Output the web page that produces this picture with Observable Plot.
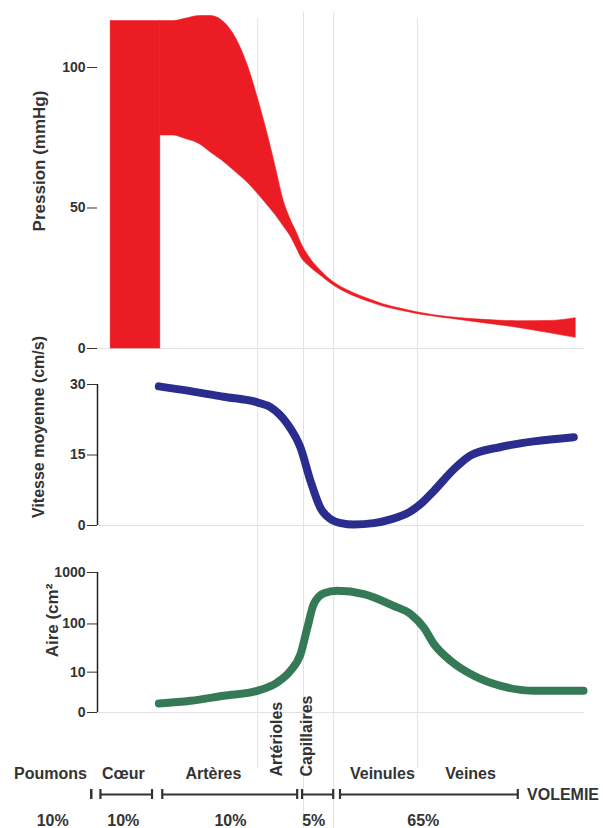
<!DOCTYPE html>
<html><head><meta charset="utf-8">
<script src="https://cdn.jsdelivr.net/npm/d3@7"></script>
<script src="https://cdn.jsdelivr.net/npm/@observablehq/plot@0.6"></script>
<style>
html,body{margin:0;padding:0;background:#fff;}
#chart{position:relative;width:603px;height:828px;overflow:hidden;background:#fff;}
</style></head><body><div id="chart"></div>
<script>
// ---------- données ----------
// position le long du circuit (unités arbitraires 0–100)
const lignesCourtes = [32.9, 65.7];
const lignesLongues = [42.3, 48.5];

// Pression : ventricule (rectangle) puis bande systolo-diastolique
const ventriculeX = [2.7, 12.9];
const ventriculeP = [0, 116.5];
const pressionX = [12.9, 15.6, 18.0, 21.1, 23.2, 25.5, 27.9, 31.0, 33.1, 34.9, 36.6, 38.2, 39.5, 41.1, 41.7, 43.7, 45.8, 48.5, 51.9, 55.4, 58.8, 62.2, 65.6, 72.5, 79.3, 86.2, 93.0, 98.2];
const pressionSystolique = [116.5, 116.5, 117.3, 118.3, 118.3, 116.8, 112, 100, 88, 76.5, 64.4, 52.7, 46.5, 40.5, 38, 32, 27.8, 23.6, 20.3, 17.8, 15.7, 14.2, 12.9, 11.1, 10.2, 9.7, 9.8, 10.8];
const pressionDiastolique = [75.8, 75.8, 74.6, 72.6, 69.8, 67.0, 63.5, 58.7, 54.7, 51.0, 47.4, 43.5, 40.3, 35.0, 32.8, 28.9, 26.0, 22.4, 19.2, 16.8, 14.9, 13.5, 12.3, 10.6, 9.0, 7.4, 5.4, 3.8];
const pressionTicks = [0, 50, 100];

// Vitesse moyenne (cm/s)
const vitesseX = [12.6, 19.1, 25.9, 32.8, 35.5, 39.0, 41.7, 43.7, 45.8, 47.8, 50.0, 52.6, 56.7, 60.2, 64.3, 66.7, 69.1, 73.2, 76.6, 82.8, 89.6, 97.8];
const vitesse = [29.6, 28.6, 27.4, 26.2, 25.2, 21.6, 16.5, 9.6, 3.7, 1.4, 0.5, 0.2, 0.5, 1.3, 3.0, 4.9, 7.4, 12, 14.9, 16.7, 17.9, 18.8];
const vitesseTicks = [0, 15, 30];

// Aire (cm²)
const aireX = [12.6, 19.1, 25.9, 32.8, 36.9, 39.6, 41.7, 43.1, 44.4, 46.5, 49.2, 54.7, 60.8, 64.3, 67.0, 69.1, 72.5, 77.3, 82.8, 89.6, 99.8];
const aire = [0.98, 1.36, 2.2, 3.24, 5.6, 10.7, 24.8, 85, 244, 398, 442, 382, 226, 156, 85, 39.7, 17.9, 8.2, 4.5, 3.24, 3.24];
const aireTicks = [0, 10, 100, 1000];

// Libellés du bas
const tissus = ["Poumons", "Cœur", "Artères", "Veinules", "Veines"];
const tissusX = [-9.65, 5.3, 23.8, 58.5, 76.6];
const vaisseaux = ["Artérioles", "Capillaires"];
const vaisseauxX = [37.9, 44.1];
const volumeDebut = [-1.3, 0.6, 13.3, 42.0, 49.8];
const volumeFin = [-1.3, 11.2, 41.0, 48.4, 86.3];
const pourcentages = ["10%", "10%", "10%", "5%", "65%"];
const pourcentagesX = [-9.2, 5.3, 27.3, 44.4, 66.9];
const volemie = ["VOLEMIE"];
const volemieX = [88.2];

// ---------- rendu ----------
const rouge = "#ec1c24", bleu = "#2b2d8e", vert = "#357a56", grille = "#e2e2e2", texte = "#333";
const police = "'Liberation Sans', Arial, Helvetica, sans-serif";
const commun = {
  width: 603, marginLeft: 97, marginRight: 19,
  x: {domain: [0, 100], axis: null},
  style: {background: "transparent", overflow: "visible", fontFamily: police, fontSize: "14px", fontWeight: "bold", color: texte}
};
const chart = document.getElementById("chart");
function poser(svg, top) {
  svg.style.position = "absolute";
  svg.style.left = "0px";
  svg.style.top = top + "px";
  chart.appendChild(svg);
}
function titreAxe(t, dx, dy, taille) {
  return Plot.text([t], {text: d => d, frameAnchor: "left", textAnchor: "middle", rotate: -90, dx, dy, fontSize: taille});
}

// lignes verticales de séparation
poser(Plot.plot({...commun, height: 750, marginTop: 0, marginBottom: 0,
  marks: [Plot.ruleX(lignesCourtes, {stroke: grille, strokeWidth: 1})]}), 18);
poser(Plot.plot({...commun, height: 816, marginTop: 0, marginBottom: 0,
  marks: [Plot.ruleX(lignesLongues, {stroke: grille, strokeWidth: 1})]}), 12);

// Pression
const ventricule = [{x1: ventriculeX[0], x2: ventriculeX[1], y1: ventriculeP[0], y2: ventriculeP[1]}];
const bande = pressionX.map((x, i) => ({x, haut: pressionSystolique[i], bas: pressionDiastolique[i]}));
const axeY = {tickSize: 10, tickPadding: 2, label: null};
poser(Plot.plot({...commun, height: 360, marginTop: 15, marginBottom: 12,
  y: {...axeY, domain: [0, 118.5], ticks: pressionTicks},
  marks: [
    Plot.ruleY([0], {stroke: grille}),
    Plot.rect(ventricule, {x1: "x1", x2: "x2", y1: "y1", y2: "y2", fill: rouge, stroke: rouge, strokeWidth: 0.6}),
    Plot.areaY(bande, {x: "x", y1: "bas", y2: "haut", fill: rouge, stroke: rouge, strokeWidth: 0.6, curve: "monotone-x"}),
    titreAxe("Pression (mmHg)", -58, -21, 17)
  ]}), 0);

// Vitesse
poser(Plot.plot({...commun, height: 170, marginTop: 14, marginBottom: 15,
  y: {...axeY, domain: [0, 30], ticks: vitesseTicks},
  marks: [
    Plot.ruleY([0], {stroke: grille}),
    Plot.ruleX([0], {stroke: "#222", strokeWidth: 1.5}),
    Plot.line(vitesse, {x: vitesseX, y: vitesse, stroke: bleu, strokeWidth: 8, curve: "monotone-x"}),
    titreAxe("Vitesse moyenne (cm/s)", -59, -28, 16)
  ]}), 370);

// Aire
poser(Plot.plot({...commun, height: 172, marginTop: 17, marginBottom: 15,
  y: {...axeY, type: "symlog", constant: 2, domain: [0, 1000], ticks: aireTicks, tickFormat: d => String(d)},
  marks: [
    Plot.ruleY([0], {stroke: grille}),
    Plot.ruleX([0], {stroke: "#222", strokeWidth: 1.5}),
    Plot.line(aire, {x: aireX, y: aire, stroke: vert, strokeWidth: 8, curve: "monotone-x"}),
    titreAxe("Aire (cm²", -45, -22, 17)
  ]}), 555);

// libellés verticaux
poser(Plot.plot({...commun, height: 86, marginTop: 0, marginBottom: 0,
  marks: [Plot.text(vaisseaux, {x: vaisseauxX, text: vaisseaux, rotate: -90, textAnchor: "start", frameAnchor: "bottom", fontSize: 16})]}), 690);

// noms des segments
poser(Plot.plot({...commun, height: 20, marginTop: 0, marginBottom: 0,
  marks: [Plot.text(tissus, {x: tissusX, text: tissus, fontSize: 16})]}), 763);

// barres de volume
const extremites = volumeDebut.concat(volumeFin);
poser(Plot.plot({...commun, height: 10, marginTop: 0, marginBottom: 0,
  marks: [
    Plot.ruleY(volumeDebut, {x1: volumeDebut, x2: volumeFin, y: null, stroke: texte, strokeWidth: 2}),
    Plot.tickX(extremites, {x: extremites, stroke: texte, strokeWidth: 2.2}),
    Plot.text(volemie, {x: volemieX, text: volemie, textAnchor: "start", fontSize: 16})
  ]}), 789);

// pourcentages
poser(Plot.plot({...commun, height: 20, marginTop: 0, marginBottom: 0,
  marks: [Plot.text(pourcentages, {x: pourcentagesX, text: pourcentages, fontSize: 16})]}), 810);
</script></body></html>
